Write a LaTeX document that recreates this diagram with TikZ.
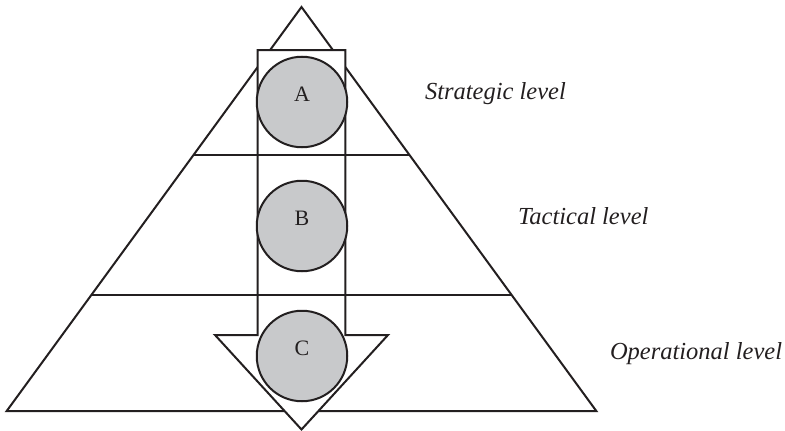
\documentclass[tikz,border=0pt]{standalone}
\usepackage{fontspec}
\setmainfont{Liberation Serif}
\definecolor{circgray}{RGB}{200,201,203}
\definecolor{ink}{RGB}{35,31,32}
\begin{document}
\begin{tikzpicture}[x=1pt,y=-1pt,line width=2pt,line join=miter,draw=ink,
  circ/.style={circle,draw=ink,fill=circgray,minimum size=90.5pt,inner sep=0pt},
  letter/.style={anchor=base,text=ink,inner sep=0pt,font=\fontsize{22}{22}\selectfont},
  lvl/.style={anchor=base west,text=ink,inner sep=0pt,font=\fontsize{24.5}{24.5}\selectfont\itshape}]
\useasboundingbox (0,0) rectangle (785,431);
% pyramid
\draw (301.5,7) -- (6.7,411) -- (596.3,411) -- cycle;
% arrow
\draw[fill=white] (257.5,50) -- (345.3,50) -- (345.3,335) -- (388,335) -- (301.5,429.5)
  -- (215,335) -- (257.5,335) -- cycle;
% level lines (drawn over the arrow)
\draw (193.9,154.5) -- (409.1,154.5);
\draw (91.3,294.5) -- (511.7,294.5);
% circles
\node[circ] (A) at (302,102) {};
\node[circ] (B) at (302,226) {};
\node[circ] (C) at (302,356) {};
\node[letter] (tA) at (302,101.7) {A};
\node[letter] (tB) at (302,225.7) {B};
\node[letter] (tC) at (302,355.7) {C};
% labels
\node[lvl] (s) at (424,99.3) {Strategic level};
\node[lvl] (t) at (517,224.3) {Tactical level};
\node[lvl] (o) at (609,359.3) {Operational level};
\end{tikzpicture}
\end{document}
